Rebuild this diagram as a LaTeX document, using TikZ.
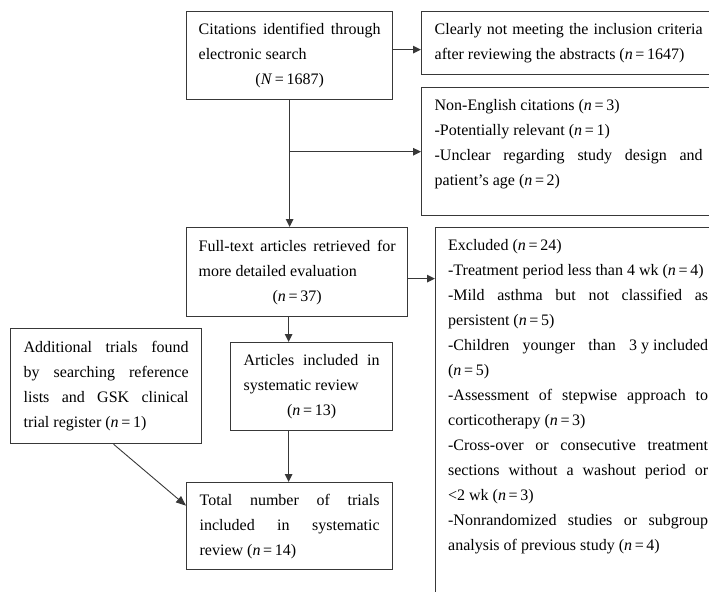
\documentclass[tikz,border=0pt]{standalone}
\usepackage{fontspec}
\setmainfont{Liberation Serif}
\usetikzlibrary{arrows.meta,calc}
\newcommand{\boxfont}{\fontsize{16bp}{25bp}\selectfont\hyphenpenalty=10000\exhyphenpenalty=10000\tolerance=10000\hbadness=10000}
\newcommand{\nval}[1]{(\textit{n}\,=\,#1)}
\colorlet{linecol}{black!78}
\begin{document}
\begin{tikzpicture}[x=1bp,y=-1bp,
  box/.style={draw=linecol, line width=1.3bp, align=justify, inner xsep=0pt, inner ysep=0pt, anchor=north west, font=\boxfont},
  arr/.style={draw=linecol, line width=1.3bp, -{Triangle[length=8bp,width=7.5bp]}},
  thinarr/.style={draw=linecol, line width=0.9bp, -{Triangle[length=10bp,width=8bp]}}]
\useasboundingbox (0,0) rectangle (709,592);
\clip (0,0) rectangle (709,592);

\node[box, text width=182bp, minimum width=206bp, minimum height=88bp] (A) at (186,11)
  {Citations identified through\linebreak electronic search\par{\centering(\textit{N}\,=\,1687)\par}};

\node[box, text width=268bp, minimum width=294bp, minimum height=63bp] (B) at (421,11)
  {Clearly not meeting the inclusion criteria\linebreak after reviewing the abstracts \nval{1647}};

\node[box, text width=268bp, minimum width=294bp, inner ysep=12bp] (C) at (421,87)
  {Non-English citations \nval{3}\par
   -Potentially relevant \nval{1}\par
   -Unclear regarding study design and\linebreak patient’s age \nval{2}\rule[-18bp]{0pt}{1bp}};

\node[box, text width=197bp, minimum width=221bp, minimum height=89bp] (D) at (186,227)
  {Full-text articles retrieved for\linebreak more detailed evaluation\par{\centering\nval{37}\par}};

\node[box, text width=260bp, minimum width=285bp, inner ysep=12bp] (X) at (435,227)
  {Excluded \nval{24}\par
   -Treatment period less than 4 wk \nval{4}\par
   -Mild asthma but not classified as\linebreak persistent \nval{5}\par
   -Children younger than \mbox{3 y included}\linebreak \nval{5}\par
   -Assessment of stepwise approach to\linebreak corticotherapy \nval{3}\par
   -Cross-over or consecutive treatment\linebreak sections without a washout period or\linebreak <2 wk \nval{3}\par
   -Nonrandomized studies or subgroup\linebreak analysis of previous study \nval{4}\rule[-80bp]{0pt}{1bp}};

\node[box, text width=136bp, minimum width=162bp, minimum height=88bp] (E) at (230,342)
  {Articles included in\linebreak systematic review\par{\centering\nval{13}\par}};

\node[box, text width=165bp, minimum width=191bp, minimum height=115bp] (F) at (10,328)
  {Additional trials found\linebreak by searching reference\linebreak lists and GSK clinical\linebreak trial register \nval{1}};

\node[box, text width=180bp, minimum width=206bp, minimum height=87bp] (G) at (186,482)
  {Total number of trials\linebreak included in systematic\linebreak review \nval{14}};

% connectors
\coordinate (a1) at ($(A.east)+(0,-6)$);
\draw[arr] (a1) -- (a1 -| B.west);
\draw[arr] (A.south) -- (A.south |- D.north);
\coordinate (br) at (A.south |- C.west);
\draw[arr] (br) -- (C.west);
\coordinate (d1) at ($(D.east)+(0,6.5)$);
\draw[arr] (d1) -- (d1 -| X.west);
\coordinate (col) at ($(D.south)+(-8.5,0)$);
\draw[arr] (col) -- (col |- E.north);
\draw[arr] (col |- E.south) -- (col |- G.north);
\coordinate (f1) at ($(F.south)+(7.5,0)$);
\coordinate (g1) at ($(G.west)+(0,-20.5)$);
\draw[thinarr] (f1) -- (g1);
\end{tikzpicture}
\end{document}
